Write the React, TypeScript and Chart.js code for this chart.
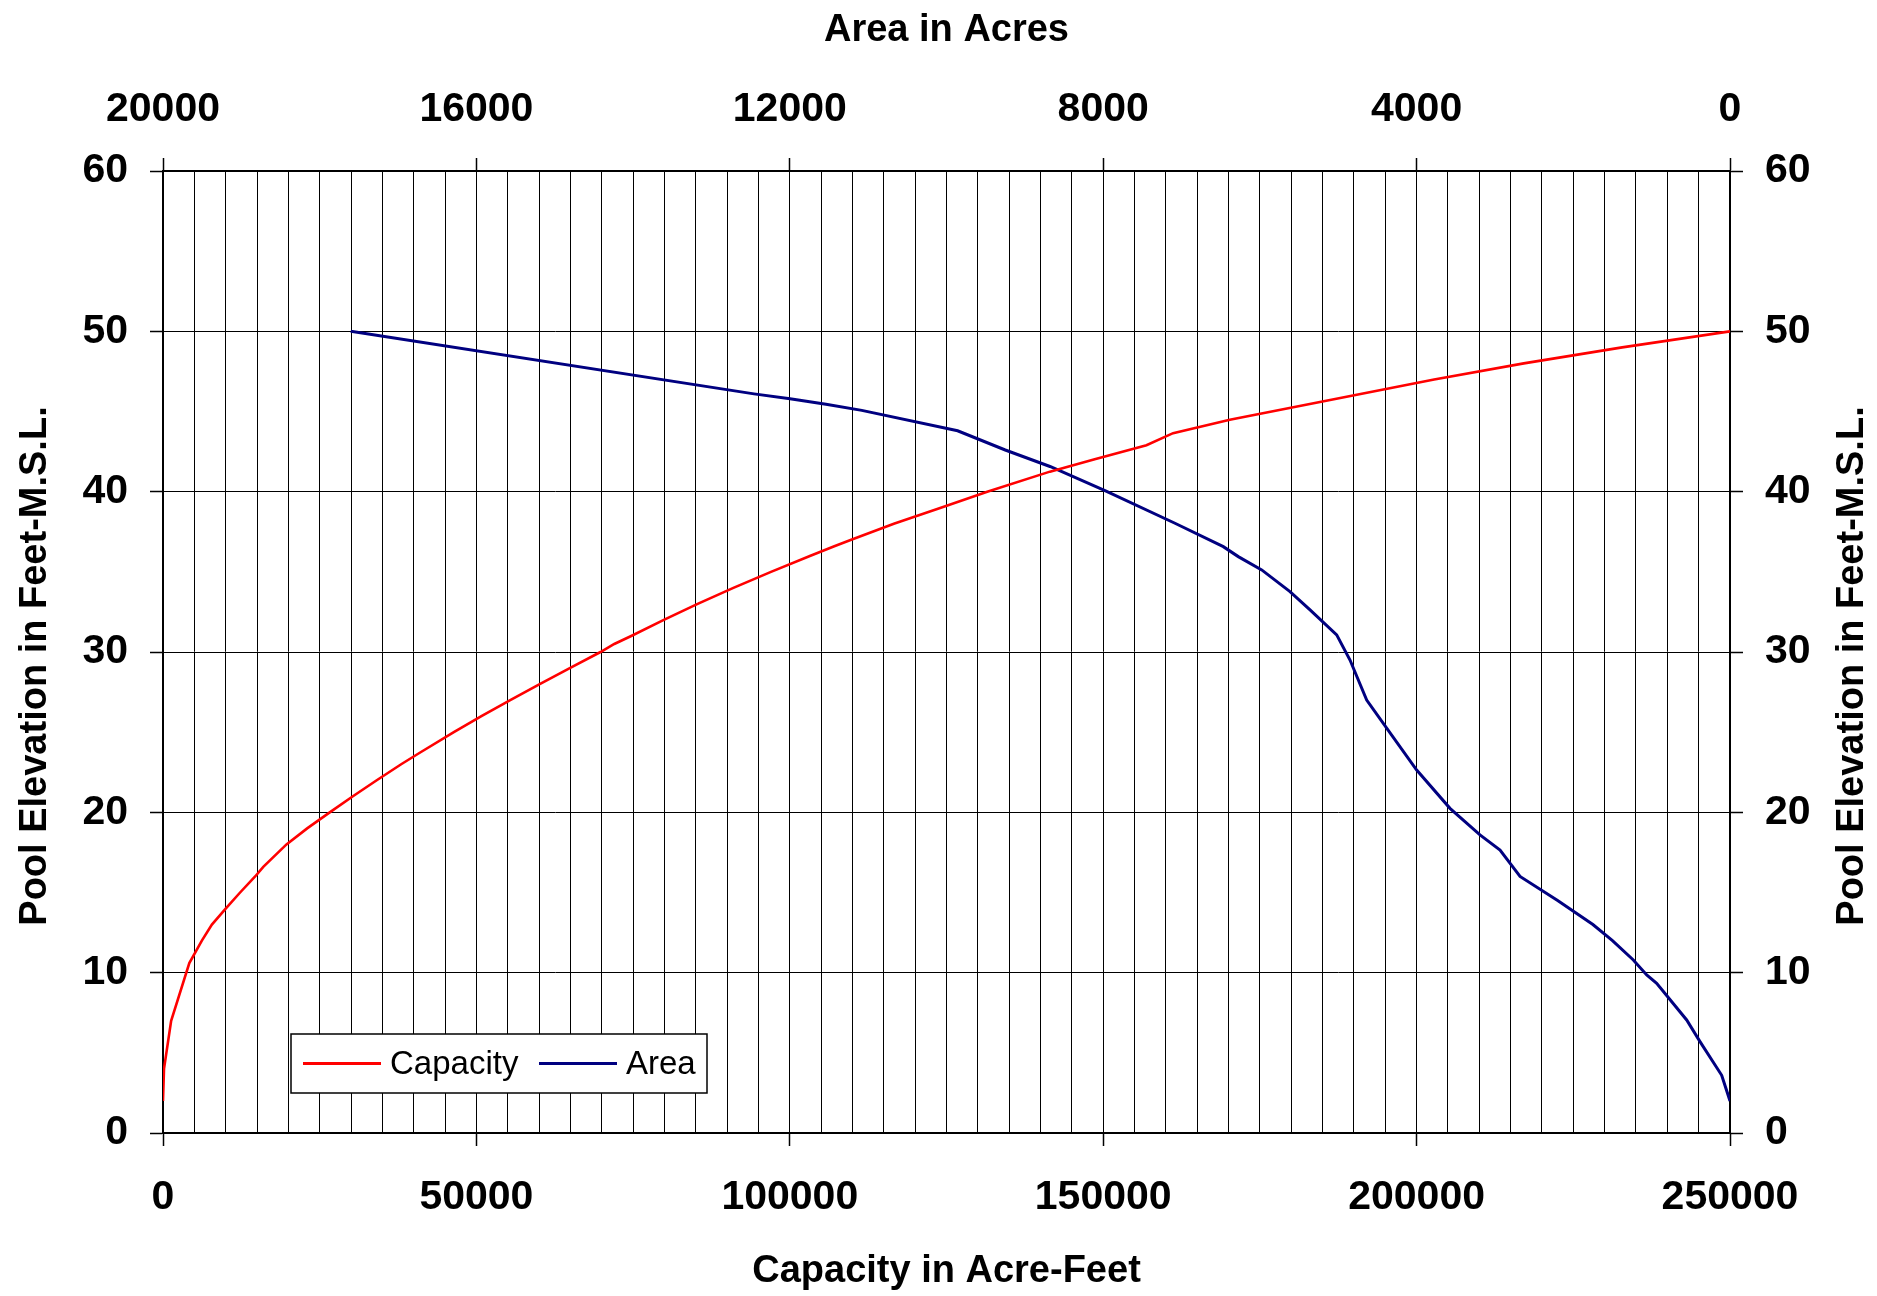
import React, { useEffect, useRef } from 'react';
import { Chart, registerables } from 'chart.js';

Chart.register(...registerables);

const W = 1877;
const H = 1296;

// Capacity curve (acre-feet vs elevation)
const capacityElevation = [2, 4, 7, 10.6, 12, 13, 14, 15, 16, 16.6, 18, 19, 20, 21, 22, 23, 23.7, 25, 26, 27, 28, 29, 30, 30.5, 31, 32, 33, 34, 35, 36, 36.6, 37, 38, 39, 40, 41.25, 42, 42.9, 43.65, 44.48, 45.73, 47, 48, 49, 50];
const capacityAcreFeet = [0, 160, 1300, 4200, 6200, 7800, 10000, 12300, 14700, 16000, 19700, 23000, 26600, 30300, 34100, 38000, 40900, 46400, 50800, 55400, 60100, 64900, 69800, 72000, 74700, 79900, 85300, 91000, 97000, 103300, 107100, 109800, 116600, 124100, 131500, 141500, 148500, 156900, 161150, 170200, 186400, 202800, 217100, 232800, 250000];

// Area curve (acres vs elevation)
const areaElevation = [2, 3.6, 5.7, 7.05, 9.34, 9.86, 10.79, 12, 13, 14.5, 16, 17.65, 18.59, 20.25, 22.64, 25.25, 27, 29.5, 31.07, 32.63, 33.77, 35.12, 35.95, 36.57, 38.03, 40.07, 41.57, 42.6, 43.8, 45.07, 45.45, 45.8, 46.1, 50];
const areaAcres = [0, 106, 383, 553, 936, 1063, 1234, 1500, 1750, 2200, 2680, 2935, 3191, 3574, 3999, 4382, 4637, 4850, 5020, 5360, 5616, 5977, 6276, 6467, 7084, 7977, 8679, 9250, 9858, 11081, 11538, 11997, 12457, 17604];

const capacityTickLabels = [0, 50000, 100000, 150000, 200000, 250000];
const areaTickLabels = [20000, 16000, 12000, 8000, 4000, 0];
const elevationTickLabels = [0, 10, 20, 30, 40, 50, 60];

const seriesNames = ['Capacity', 'Area'];
const seriesColors = ['#ff0000', '#000080'];
const xTitle = 'Capacity in Acre-Feet';
const x2Title = 'Area in Acres';
const yTitle = 'Pool Elevation in Feet-M.S.L.';

const FONT = '"Liberation Sans", Arial, Helvetica, sans-serif';

const overlayPlugin = {
  id: 'overlay',
  afterDraw(chart: any) {
    const ctx = chart.ctx;
    const { top, bottom, left } = chart.chartArea;
    ctx.save();
    // vertical axis titles, both reading bottom-to-top
    ctx.font = `bold 38px ${FONT}`;
    ctx.fillStyle = '#000';
    ctx.textAlign = 'center';
    ctx.textBaseline = 'middle';
    const cy = (top + bottom) / 2 + 14;
    [36, W - 24].forEach((x) => {
      ctx.save();
      ctx.translate(x, cy);
      ctx.rotate(-Math.PI / 2);
      ctx.fillText(yTitle, 0, 0);
      ctx.restore();
    });
    // legend
    const bx = left + 128;
    const by = bottom - 99;
    const bw = 416;
    const bh = 59;
    ctx.fillStyle = '#fff';
    ctx.fillRect(bx, by, bw, bh);
    ctx.strokeStyle = '#000';
    ctx.lineWidth = 1.5;
    ctx.strokeRect(bx, by, bw, bh);
    const ly = by + bh / 2;
    const items = chart.data.datasets.map((d: any, i: number) => ({
      label: d.label,
      color: d.borderColor,
      x: i === 0 ? bx + 12 : bx + 248,
    }));
    ctx.font = `33px ${FONT}`;
    ctx.textAlign = 'left';
    items.forEach((it: any) => {
      ctx.strokeStyle = it.color;
      ctx.lineWidth = 3;
      ctx.beginPath();
      ctx.moveTo(it.x, ly);
      ctx.lineTo(it.x + 78, ly);
      ctx.stroke();
      ctx.fillStyle = '#000';
      ctx.fillText(it.label, it.x + 87, ly + 1);
    });
    ctx.restore();
  },
};

export default function App() {
  const ref = useRef<HTMLCanvasElement | null>(null);

  useEffect(() => {
    document.body.style.margin = '0';
    const canvas = ref.current;
    if (!canvas) return;

    const capData = capacityElevation.map((e, i) => ({ x: capacityAcreFeet[i], y: e }));
    const areaData = areaElevation.map((e, i) => ({ x: areaAcres[i], y: e }));

    const tickFont = { family: FONT, size: 41, weight: 'bold' as const, lineHeight: 1 };
    const titleFont = { family: FONT, size: 38, weight: 'bold' as const, lineHeight: 1 };
    const border = { display: true, color: '#000', width: 2 };

    const chart = new Chart(canvas, {
      type: 'scatter',
      data: {
        datasets: [
          {
            label: seriesNames[0],
            data: capData,
            xAxisID: 'x',
            yAxisID: 'y',
            showLine: true,
            borderColor: seriesColors[0],
            backgroundColor: seriesColors[0],
            borderWidth: 2.6,
            pointRadius: 0,
            tension: 0,
          },
          {
            label: seriesNames[1],
            data: areaData,
            xAxisID: 'x2',
            yAxisID: 'y',
            showLine: true,
            borderColor: seriesColors[1],
            backgroundColor: seriesColors[1],
            borderWidth: 3,
            pointRadius: 0,
            tension: 0,
          },
        ],
      },
      options: {
        responsive: false,
        animation: false,
        maintainAspectRatio: false,
        layout: { padding: 0 },
        plugins: {
          legend: { display: false },
          tooltip: { enabled: false },
          title: { display: false },
        },
        scales: {
          x: {
            type: 'linear',
            position: 'bottom',
            min: 0,
            max: 250000,
            afterFit: (s: any) => { s.height = H - 1133; },
            ticks: {
              stepSize: 5000,
              autoSkip: false,
              maxRotation: 0,
              minRotation: 0,
              color: '#000',
              font: tickFont,
              padding: 31,
              callback: (v: any) => (capacityTickLabels.includes(Number(v)) ? String(v) : ''),
            },
            grid: {
              color: '#000',
              lineWidth: 1,
              tickLength: 13,
              tickWidth: 1.5,
              tickColor: (c: any) => (c.tick && capacityTickLabels.includes(c.tick.value) ? '#000' : 'rgba(0,0,0,0)'),
            },
            border,
            title: {
              display: true,
              text: xTitle,
              color: '#000',
              font: titleFont,
              padding: { top: 0, bottom: 5 },
            },
          },
          x2: {
            type: 'linear',
            position: 'top',
            min: 0,
            max: 20000,
            reverse: true,
            afterFit: (s: any) => { s.height = 171; },
            ticks: {
              stepSize: 4000,
              autoSkip: false,
              maxRotation: 0,
              minRotation: 0,
              color: '#000',
              font: tickFont,
              padding: 28,
              callback: (v: any) => (areaTickLabels.includes(Number(v)) ? String(v) : ''),
            },
            grid: {
              drawOnChartArea: false,
              color: '#000',
              tickLength: 13,
              tickWidth: 1.5,
              tickColor: '#000',
            },
            border,
            title: {
              display: true,
              text: x2Title,
              color: '#000',
              font: titleFont,
              padding: { top: 12, bottom: 0 },
            },
          },
          y: {
            type: 'linear',
            position: 'left',
            min: 0,
            max: 60,
            afterFit: (s: any) => { s.width = 163; },
            ticks: {
              stepSize: 10,
              color: '#000',
              font: tickFont,
              padding: 22,
              callback: (v: any) => (elevationTickLabels.includes(Number(v)) ? String(v) : ''),
            },
            grid: {
              color: '#000',
              lineWidth: 1,
              tickLength: 13,
              tickWidth: 1.5,
              tickColor: '#000',
            },
            border,
          },
          y2: {
            type: 'linear',
            position: 'right',
            min: 0,
            max: 60,
            afterFit: (s: any) => { s.width = W - 1730; },
            ticks: {
              stepSize: 10,
              color: '#000',
              font: tickFont,
              padding: 22,
              callback: (v: any) => (elevationTickLabels.includes(Number(v)) ? String(v) : ''),
            },
            grid: {
              drawOnChartArea: false,
              color: '#000',
              tickLength: 13,
              tickWidth: 1.5,
              tickColor: '#000',
            },
            border,
          },
        },
      } as any,
      plugins: [overlayPlugin],
    });

    return () => {
      chart.destroy();
    };
  }, []);

  return (
    <div style={{ position: 'absolute', left: 0, top: 0, width: W, height: H, background: '#fff' }}>
      <canvas ref={ref} width={W} height={H} style={{ width: W, height: H, display: 'block' }} />
    </div>
  );
}
